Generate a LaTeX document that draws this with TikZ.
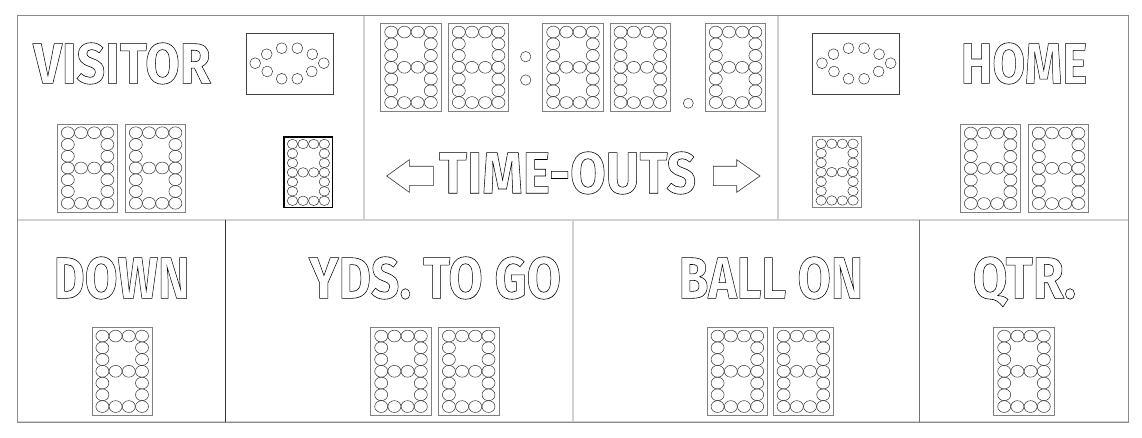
\documentclass[tikz,border=0pt]{standalone}
\usepackage{fontspec}
\usepackage{graphicx}
\newfontfamily\sbfont{Fira Sans}
\newcommand\outl[1]{\special{pdf:literal direct 1 Tr 0.6 w}#1\special{pdf:literal direct 0 Tr}}
\newcommand\lblbox[3]{\resizebox{#2pt}{#3pt}{\sbfont\bfseries\fontsize{59}{60}\selectfont\outl{#1}}}
\tikzset{
  txt/.style={anchor=base west, inner sep=0pt, outer sep=0pt},
  digbox/.style={rectangle, draw=black!50, line width=0.8pt, minimum width=60.5pt, minimum height=88pt, inner sep=0pt},
  ledc/.style={draw=black!80, line width=0.5pt},
  ovalbox/.style={rectangle, draw=black!75, line width=0.9pt, minimum width=87pt, minimum height=61pt, inner sep=0pt},
  frameln/.style={draw=black!45, line width=1pt},
  lightln/.style={draw=black!18, line width=2pt},
  darkln/.style={draw=black!80, line width=1pt},
  midln/.style={draw=black!55, line width=1pt},
  arrowshape/.style={draw=black!80, line width=0.6pt, fill=white},
}
\newcommand\segdig[5]{%
\begin{scope}[shift={(#2,#3)},scale=#4]
\node[digbox,transform shape,#5] (#1) at (30.25,44) {};
\foreach \cc/\rr in {0/0,1/0,2/0,3/0,0/1,3/1,0/2,3/2,0/3,1/3,2/3,3/3,0/4,3/4,0/5,3/5,0/6,1/6,2/6,3/6}
  \draw[ledc] ({10.5+13.2*\cc},{8.75+11.75*\rr}) ellipse [x radius=6.5, y radius=5.9];
\end{scope}}
\newcommand\ovalind[3]{%
\node[ovalbox] (#1) at (#2,#3) {};
\foreach \dx/\dy in {-7.8/-15.3,7.8/-15.3,-22.8/-9.3,22.8/-9.3,-34.3/-0.3,34.3/-0.3,-22.3/8,22.3/8,-7.8/15.3,7.8/15.3}
  \draw[ledc] ([shift={(\dx,\dy)}]#1.center) circle [radius=5.4];
}
\begin{document}
\begin{tikzpicture}[x=1pt,y=-1pt]
\useasboundingbox[fill=white] (0,0) rectangle (1142,438);
% panel lines
\draw[lightln] (17.4,220) -- (1128,220);
\draw[lightln] (363.5,16) -- (363.5,220);
\draw[lightln] (778,16) -- (778,220);
\draw[lightln] (572.7,220) -- (572.7,422);
\draw[lightln] (17.4,422) -- (1128,422);
\draw[darkln] (225.7,220) -- (225.7,422);
\draw[midln] (919,220) -- (919,422);
\draw[frameln] (17.4,16) rectangle (1128,422);
% visitor section
\node[txt] (vis) at (33.3,83.3) {\lblbox{VISITOR}{177.4}{40.6}};
\ovalind{ov1}{289.5}{63.5}
\segdig{v1}{57.3}{124}{1}{}
\segdig{v2}{125.3}{124}{1}{}
\segdig{vt}{284}{137}{0.805}{draw=black,line width=1.3pt}
% clock
\segdig{c1}{380.7}{23.3}{1}{}
\segdig{c2}{448.3}{23.3}{1}{}
\segdig{c3}{542.7}{23.3}{1}{}
\segdig{c4}{610}{23.3}{1}{}
\segdig{c5}{705.3}{23.3}{1}{}
\draw[ledc] (525.7,56.7) circle [radius=5.2];
\draw[ledc] (525.7,80) circle [radius=5.2];
\draw[ledc] (688.3,103.3) circle [radius=5];
% time-outs
\node[txt] (tout) at (439,193.3) {\lblbox{TIME-OUTS}{257}{41.6}};
\draw[arrowshape] (386.7,176) -- (409.3,159.7) -- (409.3,166.3) -- (433.3,166.3) -- (433.3,185.7) -- (409.3,185.7) -- (409.3,192.3) -- cycle;
\draw[arrowshape] (760,176) -- (736.7,159.7) -- (736.7,166.3) -- (713.3,166.3) -- (713.3,185.7) -- (736.7,185.7) -- (736.7,192.3) -- cycle;
% home section
\ovalind{ov2}{856.3}{63.5}
\node[txt] (home) at (960.7,83.3) {\lblbox{HOME}{126.6}{40.6}};
\segdig{ht}{812.7}{136.7}{0.805}{}
\segdig{h1}{960.3}{124.3}{1}{}
\segdig{h2}{1028.3}{124.3}{1}{}
% bottom row
\node[txt] (down) at (53.7,298.3) {\lblbox{DOWN}{135.9}{41.6}};
\segdig{dn}{91.9}{327.3}{1}{}
\node[txt] (yds) at (309,298.3) {\lblbox{YDS. TO GO}{252}{41.6}};
\segdig{y1}{370.7}{327.3}{1}{}
\segdig{y2}{438.4}{327.3}{1}{}
\node[txt] (ball) at (678.7,298.3) {\lblbox{BALL ON}{184.2}{41.6}};
\segdig{b1}{707.1}{327.3}{1}{}
\segdig{b2}{773.1}{327.3}{1}{}
\node[txt] (qtr) at (972.7,298.3) {\lblbox{QTR.}{103.3}{41.6}};
\segdig{q1}{993.7}{327.3}{1}{}
\end{tikzpicture}
\end{document}
